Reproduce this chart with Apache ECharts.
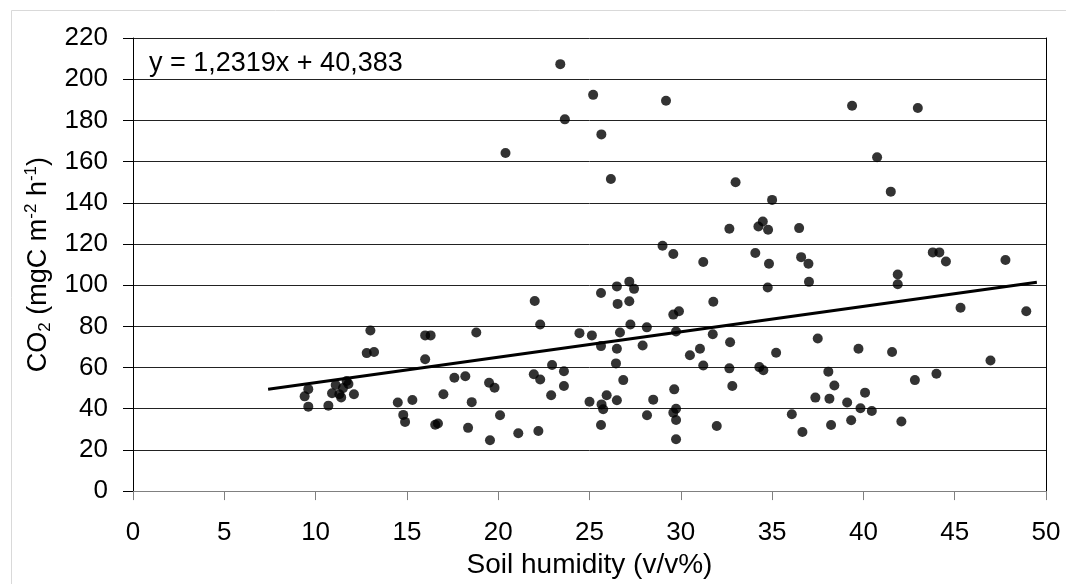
<!DOCTYPE html>
<html>
<head>
<meta charset="utf-8">
<script src="https://cdn.jsdelivr.net/npm/echarts@6/dist/echarts.min.js"></script>
<style>
html,body{margin:0;padding:0;background:#fff;}
#c{width:1066px;height:584px;}
</style>
</head>
<body>
<div id="c"></div>
<script>
// Soil humidity (v/v%) values of the measured points
const humidity = [
  9.4, 9.6, 9.6, 10.7, 10.9, 11.1, 11.3, 11.4, 11.5, 11.7, 11.8, 12.1,
  12.8, 13.0, 13.2, 14.5, 14.8, 14.9, 15.3, 16.0, 16.3, 16.0,
  16.55, 16.7, 17.0, 17.6, 18.2, 18.35, 18.55, 18.8,
  19.5, 19.8, 19.55, 20.1, 20.4, 21.1,
  22.0, 22.3, 21.95, 22.3, 22.2, 22.95, 22.9,
  23.4, 23.65, 23.6, 23.6, 24.45,
  25.2, 25.65, 26.17, 25.13, 25.63, 25.63, 25.0, 25.66, 25.75, 25.94, 25.63,
  26.5, 26.54, 26.67, 26.45, 26.5, 26.85, 26.5,
  27.18, 27.44, 27.18, 27.24, 27.91,
  28.14, 28.15, 28.49,
  29.0, 29.19, 29.59, 29.59, 29.9, 29.74, 29.64, 29.74, 29.59, 29.74, 29.74,
  30.5, 31.05, 31.23, 31.23, 31.78, 31.75, 31.97,
  32.66, 33.0, 32.7, 32.66, 32.82,
  34.08, 34.25, 34.49, 34.78, 34.83, 34.76, 35.0, 34.3, 34.52, 35.22,
  36.08, 36.48, 36.59, 36.66, 36.99, 37.02, 37.5, 37.37,
  38.08, 38.41, 38.14, 38.23, 39.11, 39.33, 39.38, 39.73, 39.84, 40.09, 40.46,
  40.75, 41.5, 41.57, 41.88, 41.88, 42.08, 42.82, 42.98,
  43.8, 44.16, 44.0, 44.52, 45.32, 46.96, 47.78, 48.92
];
// CO2 flux (mgC m-2 h-1) of the measured points
const co2 = [
  46, 49.5, 41, 41.5, 47.5, 51.5, 47, 45.5, 50, 53.5, 52, 47,
  67, 78, 67.5, 43, 37, 33.6, 44.2, 75.6, 75.6, 64,
  32.2, 32.8, 47, 55, 55.8, 30.7, 43.2, 77,
  52.6, 50.2, 24.7, 36.8, 164.2, 28.1,
  92.3, 80.9, 56.7, 54.2, 29.2, 61.2, 46.5,
  207.3, 180.5, 58.2, 51.0, 76.7,
  192.4, 173.2, 151.5, 75.6, 96.2, 70.4, 43.4, 42.1, 39.7, 46.5, 32.1,
  99.4, 90.9, 77, 62, 69.1, 53.9, 44.1,
  101.7, 98.2, 92.2, 80.9, 70.7,
  79.5, 36.8, 44.4,
  119.1, 189.5, 115.1, 85.7, 87.3, 77.5, 49.4, 40.0, 38.1, 34.5, 25.2,
  66.0, 69.1, 111.2, 61.0, 91.9, 76.2, 31.6,
  127.4, 150.0, 72.3, 59.6, 51.0,
  115.6, 128.5, 130.9, 126.9, 110.4, 98.9, 141.4, 60.2, 58.7, 67.2,
  37.3, 127.7, 113.6, 28.7, 110.4, 101.6, 74.1, 45.4,
  58.0, 51.3, 44.9, 32.1, 43.0, 34.4, 187.1, 69.1, 40.2, 47.8, 38.9,
  162.1, 145.4, 67.5, 105.2, 100.4, 33.8, 53.9, 186.0,
  115.9, 115.9, 57.0, 111.5, 89.0, 63.4, 112.2, 87.3
];
// Linear trend line end points
const trendX = [7.4, 49.5];
const trendY = [49.5, 101.4];
const equationText = 'y = 1,2319x + 40,383';
const xTitle = 'Soil humidity (v/v%)';

const FONT = '"Liberation Sans", Arial, sans-serif';
const points = humidity.map((x, i) => [x, co2[i]]);
const trend = trendX.map((x, i) => [x, trendY[i]]);

const chart = echarts.init(document.getElementById('c'), null, {renderer: 'canvas'});
chart.setOption({
  backgroundColor: '#ffffff',
  animation: false,
  textStyle: {fontFamily: FONT},
  grid: {left: 133, top: 38, right: 20, bottom: 92, containLabel: false},
  xAxis: {
    type: 'value', min: 0, max: 50, interval: 5,
    name: xTitle, nameLocation: 'middle', nameGap: 59,
    nameTextStyle: {fontSize: 28, color: '#000', fontFamily: FONT},
    axisLine: {show: true, onZero: false, lineStyle: {color: '#808080', width: 1}},
    axisTick: {show: true, length: 9, inside: false, lineStyle: {color: '#808080'}},
    axisLabel: {fontSize: 26, color: '#000', margin: 29, fontFamily: FONT},
    splitLine: {show: false}
  },
  yAxis: [{
    type: 'value', min: 0, max: 220, interval: 20,
    name: '{n|CO}{sub|2}{n| (mgC m}{sup|-2}{n| h}{sup|-1}{n|)}',
    nameLocation: 'middle', nameGap: 78, nameRotate: 90,
    nameTextStyle: {
      color: '#000', fontFamily: FONT, fontSize: 27,
      rich: {
        n: {fontSize: 27, lineHeight: 31, fontFamily: FONT, color: '#000', verticalAlign: 'middle'},
        sub: {fontSize: 17, lineHeight: 17, fontFamily: FONT, color: '#000', verticalAlign: 'bottom'},
        sup: {fontSize: 17, lineHeight: 17, fontFamily: FONT, color: '#000', verticalAlign: 'top'}
      }
    },
    axisLine: {show: true, onZero: false, lineStyle: {color: '#000', width: 1}},
    axisTick: {show: true, length: 10, lineStyle: {color: '#000'}},
    axisLabel: {fontSize: 26, color: '#000', margin: 25, fontFamily: FONT},
    splitLine: {show: true, lineStyle: {color: '#222', width: 1}}
  }, {
    type: 'value', min: 0, max: 220, interval: 20, position: 'right',
    axisLine: {show: true, onZero: false, lineStyle: {color: '#000', width: 1}},
    axisTick: {show: false}, axisLabel: {show: false}, splitLine: {show: false}
  }],
  graphic: [
    {type: 'rect', left: 9, top: 8, silent: true,
     shape: {x: 0, y: 0, width: 1200, height: 700},
     style: {fill: 'none', stroke: '#d9d9d9', lineWidth: 1}},
    {type: 'text', left: 149, top: 50, silent: true,
     style: {text: equationText, fontSize: 27, fontFamily: FONT, fill: '#000'}}
  ],
  series: [
    {type: 'scatter', data: points, symbol: 'circle', symbolSize: 10,
     itemStyle: {color: '#000'}, z: 3},
    {type: 'line', data: trend, symbol: 'none', lineStyle: {color: '#000', width: 3},
     z: 4}
  ]
});
</script>
</body>
</html>
